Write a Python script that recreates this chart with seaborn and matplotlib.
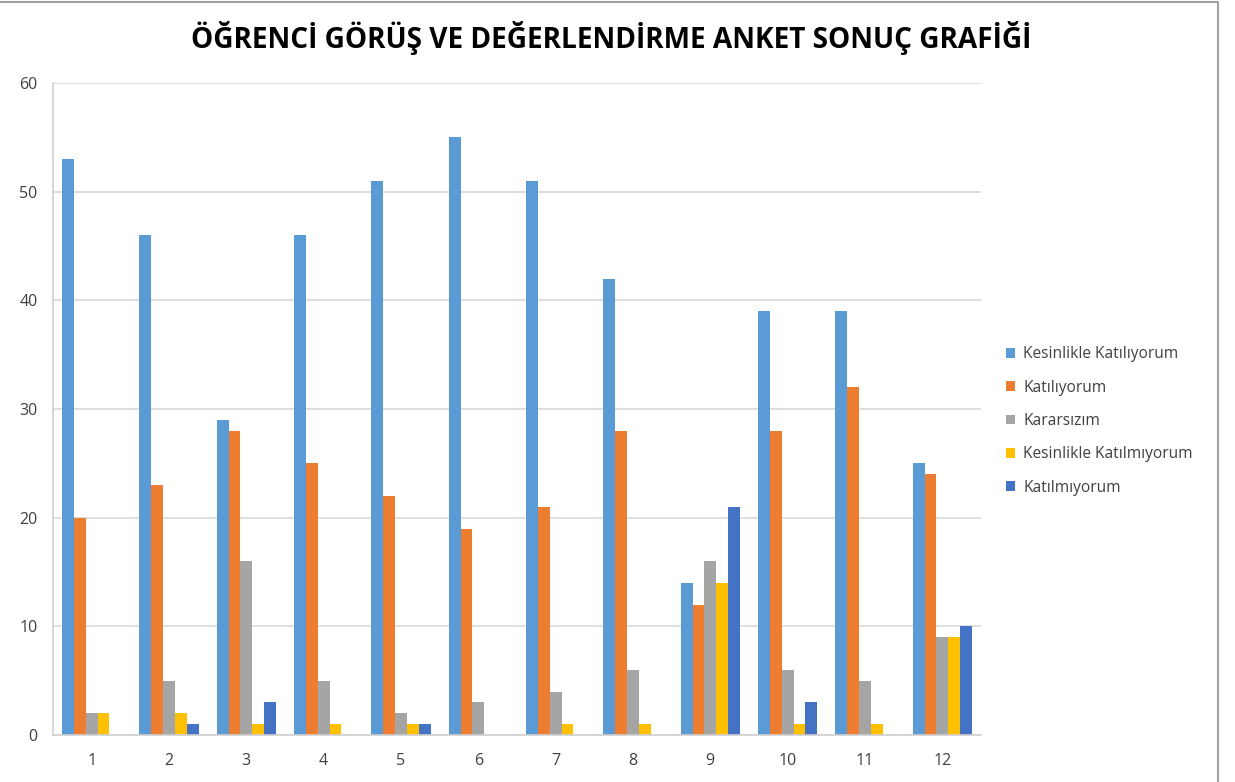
import pandas as pd
import matplotlib.pyplot as plt
import seaborn as sns
from matplotlib.lines import Line2D

# Anket verileri (soru numarası -> cevap sayıları)
questions = [str(i) for i in range(1, 13)]
kesinlikle_katiliyorum = [53, 46, 29, 46, 51, 55, 51, 42, 14, 39, 39, 25]
katiliyorum = [20, 23, 28, 25, 22, 19, 21, 28, 12, 28, 32, 24]
kararsizim = [2, 5, 16, 5, 2, 3, 4, 6, 16, 6, 5, 9]
kesinlikle_katilmiyorum = [2, 2, 1, 1, 1, 0, 1, 1, 14, 1, 1, 9]
katilmiyorum = [0, 1, 3, 0, 1, 0, 0, 0, 21, 3, 0, 10]

series_names = ['Kesinlikle Katılıyorum', 'Katılıyorum', 'Kararsızım',
                'Kesinlikle Katılmıyorum', 'Katılmıyorum']
series_values = [kesinlikle_katiliyorum, katiliyorum, kararsizim,
                 kesinlikle_katilmiyorum, katilmiyorum]
palette = ['#5B9BD5', '#ED7D31', '#A5A5A5', '#FFC000', '#4472C4']

rows = []
for name, vals in zip(series_names, series_values):
    for q, v in zip(questions, vals):
        rows.append({'Soru': q, 'Cevap': name, 'Sayı': v})
df = pd.DataFrame(rows)

sns.set_theme(style='white')
plt.rcParams['font.family'] = ['Open Sans', 'DejaVu Sans']

fig = plt.figure(figsize=(12.35, 7.82), dpi=100)
ax = fig.add_axes([0.0429, 0.0601, 0.7514, 0.8338])

sns.barplot(data=df, x='Soru', y='Sayı', hue='Cevap', order=questions,
            hue_order=series_names, palette=palette, width=0.765,
            saturation=1, linewidth=0, ax=ax, legend=True)

ax.set_ylim(0, 60)
ax.set_yticks(range(0, 61, 10))
ax.yaxis.grid(True, color='#D9D9D9', linewidth=1.2)
ax.set_axisbelow(True)
ax.set_xlabel('')
ax.set_ylabel('')
ax.tick_params(axis='both', length=0, labelsize=11.5, colors='#404040')
ax.tick_params(axis='x', pad=13)
ax.tick_params(axis='y', pad=11)
for side in ['top', 'right']:
    ax.spines[side].set_visible(False)
for side in ['left', 'bottom']:
    ax.spines[side].set_color('#D0D0D0')
    ax.spines[side].set_linewidth(1.2)

ax.legend(loc='center left', bbox_to_anchor=(1.012, 0.4816), frameon=False,
          fontsize=11.2, handlelength=0.6, handleheight=0.6, labelspacing=1.12,
          handletextpad=0.5, labelcolor='#404040')

fig.suptitle('ÖĞRENCİ GÖRÜŞ VE DEĞERLENDİRME ANKET SONUÇ GRAFİĞİ',
             x=0.495, y=0.951, va='center', fontsize=20.2, fontweight='bold',
             color='black')

# ekran görüntüsündeki çerçeve çizgileri
fig.add_artist(Line2D([0, 0.986], [0.997, 0.997], color='#A0A0A0', lw=1.5))
fig.add_artist(Line2D([0.986, 0.986], [0, 0.997], color='#A0A0A0', lw=1.5))

fig.savefig('out.png', dpi=100)
